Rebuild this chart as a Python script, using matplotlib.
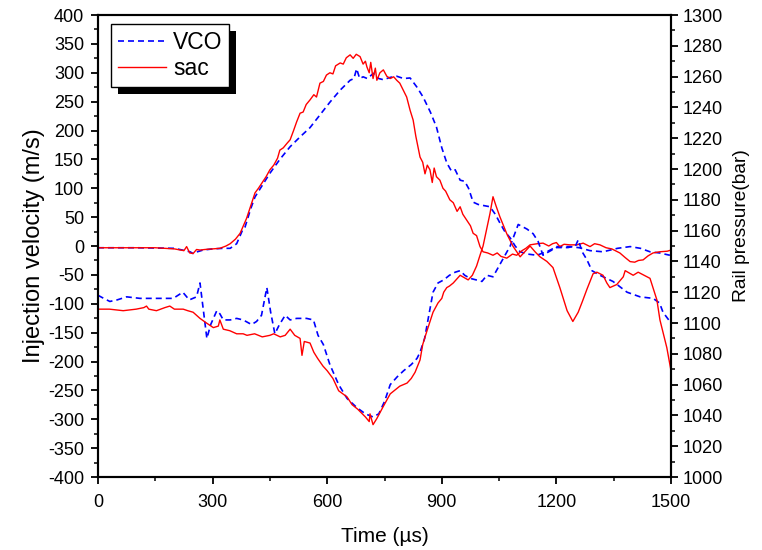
import matplotlib
matplotlib.use("Agg")
import matplotlib.pyplot as plt
from matplotlib.ticker import MultipleLocator
from matplotlib.patches import Rectangle

# injection velocity (left axis, m/s)
t_vco_vel = [0, 100, 200, 214, 241, 249, 260, 275, 300, 327, 346, 363, 380, 385, 400, 411, 430,
             450, 476, 503, 529, 555, 581, 607, 634, 660, 670, 677, 685, 694, 705, 721, 735,
             747, 765, 782, 800, 817, 835, 851, 870, 886, 900, 913, 925, 935, 948, 960, 970,
             982, 995, 1010, 1026, 1040, 1052, 1065, 1079, 1092, 1105, 1125, 1149, 1165, 1175,
             1201, 1236, 1260, 1288, 1322, 1360, 1393, 1420, 1445, 1470, 1497]
vco_vel = [-3, -3, -4, -6, -10, -13, -10, -7, -5, -4, -4, 4, 30, 33, 65, 85, 105,
           126, 150, 172, 189, 205, 227, 249, 270, 287, 290, 307, 290, 293, 290, 299, 290,
           288, 292, 294, 290, 291, 275, 258, 232, 206, 170, 144, 130, 132, 114, 112, 100,
           76, 72, 70, 68, 55, 40, 25, 14, 0, -10, -14, -16, -12, -10,
           -1, -1, -3, -8, -10, -4, -1, -4, -10, -12, -16]

t_sac_vel = [0, 50, 100, 150, 200, 225, 232, 240, 249, 258, 267, 280, 300, 319, 335, 346, 360,
             372, 389, 400, 411, 420, 430, 440, 450, 460, 470, 476, 485, 495, 503, 512, 520,
             529, 537, 545, 555, 565, 572, 581, 590, 598, 607, 615, 622, 634, 642, 650, 660,
             668, 676, 686, 694, 700, 704, 710, 714, 720, 726, 730, 738, 747, 756, 765, 774,
             782, 790, 799, 808, 817, 825, 832, 838, 843, 850, 856, 862, 869, 875, 880, 886,
             895, 903, 910, 921, 930, 940, 948, 955, 965, 975, 982, 991, 1000, 1008, 1020,
             1034, 1045, 1055, 1070, 1085, 1096, 1110, 1120, 1131, 1150, 1165, 1180, 1190,
             1200, 1209, 1220, 1235, 1254, 1270, 1288, 1300, 1314, 1330, 1345, 1366, 1380,
             1393, 1405, 1415, 1427, 1440, 1453, 1470, 1490, 1500]
sac_vel = [-3, -3, -3, -3, -5, -8, -1, -12, -13, -6, -7, -6, -5, -4, 0, 4, 12,
           22, 48, 70, 92, 100, 110, 120, 132, 140, 152, 166, 170, 178, 184, 200, 215,
           230, 232, 245, 253, 262, 258, 282, 285, 296, 300, 298, 312, 317, 315, 326, 331,
           325, 332, 328, 315, 320, 310, 300, 318, 290, 308, 287, 300, 305, 294, 290, 293,
           287, 282, 270, 258, 235, 218, 190, 170, 154, 145, 125, 140, 132, 110, 135, 120,
           114, 100, 95, 80, 75, 60, 68, 55, 45, 35, 22, 18, -1, -10, -12,
           -16, -12, -18, -21, -14, -16, -8, -4, 2, 4, 5, 0, 4,
           6, -1, 3, 2, 2, 5, -1, 4, 2, -3, -5, -12, -20,
           -27, -28, -25, -24, -17, -12, -10, -9, -7]

# rail pressure (right axis, bar)
t_vco_p = [0, 15, 31, 50, 75, 110, 154, 197, 222, 239, 258, 267, 280, 285, 295, 311, 319, 328,
           346, 363, 380, 402, 415, 428, 442, 452, 463, 475, 490, 503, 520, 546, 564, 576,
           590, 607, 630, 652, 678, 700, 720, 735, 750, 765, 783, 800, 820, 835, 843, 855,
           866, 877, 890, 905, 920, 935, 948, 960, 974, 990, 1005, 1018, 1034, 1052, 1079,
           1100, 1123, 1139, 1152, 1165, 1178, 1200, 1230, 1250, 1257, 1268, 1280, 1293,
           1314, 1348, 1385, 1419, 1453, 1470, 1479, 1500]
vco_p = [1118, 1116, 1114, 1115, 1117, 1116, 1116, 1116, 1120, 1115, 1117, 1126, 1100, 1090,
         1099, 1108, 1106, 1102, 1102, 1103, 1102, 1099, 1101, 1105, 1123, 1107, 1093, 1099,
         1105, 1102, 1103, 1103, 1102, 1092, 1086, 1073, 1060, 1051, 1045, 1041, 1039, 1041,
         1049, 1060, 1065, 1069, 1073, 1077, 1081, 1090, 1105, 1120, 1126, 1128, 1131, 1133,
         1134, 1131, 1129, 1128, 1127, 1131, 1130, 1138, 1150, 1164, 1161, 1158, 1153, 1144,
         1146, 1149, 1149, 1150, 1154, 1146, 1141, 1134, 1131, 1127, 1120, 1117, 1116, 1113,
         1107, 1100]

t_sac_p = [0, 30, 66, 100, 120, 127, 133, 153, 175, 188, 200, 223, 235, 249, 267, 284, 302,
           315, 319, 328, 345, 363, 380, 390, 410, 430, 450, 460, 477, 490, 503, 515, 529,
           534, 540, 555, 565, 575, 589, 600, 615, 630, 652, 665, 680, 700, 710, 712, 720,
           730, 745, 765, 780, 790, 809, 820, 830, 843, 850, 860, 877, 890, 900, 905, 913,
           920, 930, 948, 969, 980, 991, 1000, 1008, 1026, 1034, 1042, 1052, 1070, 1086,
           1105, 1120, 1131, 1145, 1157, 1175, 1191, 1209, 1228, 1243, 1257, 1268, 1280,
           1296, 1306, 1322, 1332, 1340, 1358, 1375, 1380, 1401, 1414, 1445, 1463, 1471,
           1489, 1500]
sac_p = [1109, 1109, 1108, 1109, 1110, 1111, 1109, 1108, 1110, 1111, 1109, 1109, 1108, 1107,
         1103, 1100, 1097, 1098, 1102, 1096, 1095, 1093, 1093, 1092, 1093, 1091, 1092, 1093,
         1091, 1092, 1096, 1092, 1090, 1079, 1088, 1087, 1081, 1077, 1072, 1069, 1064, 1056,
         1052, 1047, 1044, 1039, 1036, 1041, 1034, 1038, 1045, 1054, 1057, 1059, 1061, 1064,
         1068, 1076, 1086, 1094, 1107, 1113, 1116, 1120, 1123, 1124, 1126, 1131, 1128, 1131,
         1137, 1144, 1150, 1171, 1182, 1176, 1169, 1158, 1150, 1143, 1147, 1150, 1146, 1143,
         1140, 1136, 1123, 1108, 1101, 1107, 1114, 1122, 1132, 1133, 1131, 1126, 1123, 1125,
         1130, 1134, 1131, 1133, 1129, 1115, 1102, 1084, 1069]

tick_font = ["Liberation Sans Narrow", "Liberation Sans", "DejaVu Sans"]
plt.rcParams["font.family"] = ["Liberation Sans", "DejaVu Sans"]
plt.rcParams["axes.unicode_minus"] = False

fig = plt.figure(figsize=(7.62, 5.5), dpi=100)
ax = fig.add_axes([0.1286, 0.1327, 0.752, 0.840])
ax2 = ax.twinx()

blue_kw = dict(color="#0000ff", lw=1.2, dashes=(3.6, 2.4))
red_kw = dict(color="#ff0000", lw=1.0)

ax.plot(t_vco_vel, vco_vel, **blue_kw)
ax.plot(t_sac_vel, sac_vel, **red_kw)
l1, = ax2.plot(t_vco_p, vco_p, label="VCO", **blue_kw)
l2, = ax2.plot(t_sac_p, sac_p, label="sac", **red_kw)

ax.set_xlim(0, 1500)
ax.set_ylim(-400, 400)
ax2.set_ylim(1000, 1300)

ax.xaxis.set_major_locator(MultipleLocator(300))
ax.xaxis.set_minor_locator(MultipleLocator(150))
ax.yaxis.set_major_locator(MultipleLocator(50))
ax.yaxis.set_minor_locator(MultipleLocator(25))
ax2.yaxis.set_major_locator(MultipleLocator(20))
ax2.yaxis.set_minor_locator(MultipleLocator(10))

for a in (ax, ax2):
    for s in a.spines.values():
        s.set_linewidth(1.5)
    a.tick_params(which="major", direction="out", length=5, width=1.3, labelsize=13, pad=3)
    a.tick_params(which="minor", direction="out", length=3, width=1.1)
    for lab in a.get_xticklabels() + a.get_yticklabels():
        lab.set_family(tick_font)
ax.tick_params(top=False, which="both")
ax.tick_params(axis="x", pad=7)
ax.tick_params(axis="y", pad=5)

ax.set_xlabel("Time (\u00b5s)", fontsize=15, family=tick_font, labelpad=12)
ax.set_ylabel("Injection velocity (m/s)", fontsize=17, labelpad=2)
ax2.set_ylabel("Rail pressure(bar)", fontsize=13.8)
ax2.yaxis.set_label_coords(1.108, 0.545)

leg = ax2.legend(handles=[l1, l2], loc="upper left", bbox_to_anchor=(0.0227, 0.9805),
                 fontsize=16.5, frameon=True, fancybox=False, framealpha=1, handlelength=2.1,
                 handletextpad=0.3, labelspacing=0.15, borderpad=0.3, borderaxespad=0)
leg.get_frame().set_edgecolor("black")
leg.get_frame().set_facecolor("white")
leg.get_frame().set_linewidth(1.0)
leg.set_zorder(6)

# solid black drop shadow behind the legend box
fig.canvas.draw()
bb = leg.get_window_extent().transformed(ax2.transAxes.inverted())
dx = 7 / (ax2.bbox.width)
dy = 7 / (ax2.bbox.height)
ax2.add_patch(Rectangle((bb.x0 + dx, bb.y0 - dy), bb.width, bb.height, transform=ax2.transAxes,
                        facecolor="black", edgecolor="none", zorder=5))

fig.savefig("out.png", dpi=100)
